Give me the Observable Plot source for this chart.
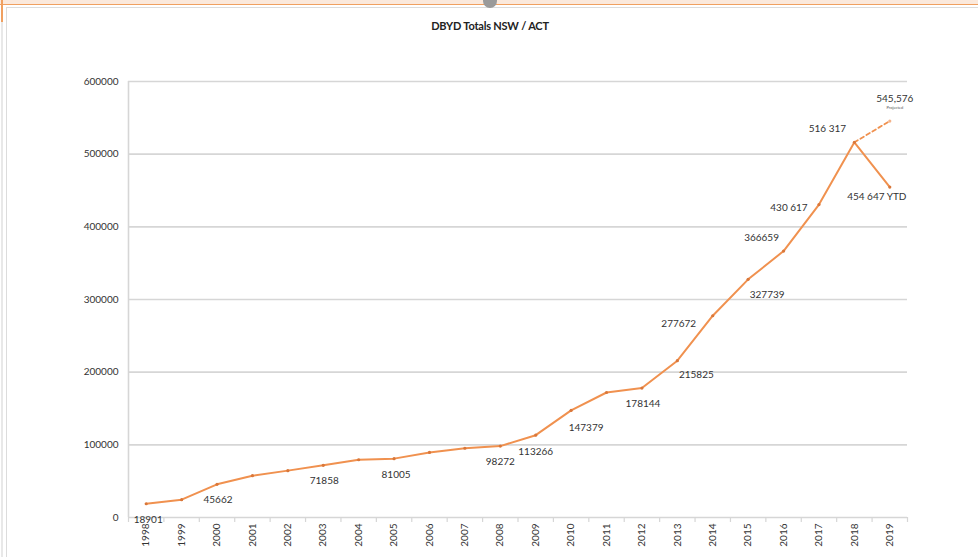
<!DOCTYPE html>
<html>
<head>
<meta charset="utf-8">
<script src="https://cdn.jsdelivr.net/npm/d3@7"></script>
<script src="https://cdn.jsdelivr.net/npm/@observablehq/plot@0.6"></script>
<style>
  html, body { margin: 0; padding: 0; background: #ffffff; }
  body { width: 978px; height: 557px; overflow: hidden; position: relative; font-family: Lato, "Open Sans", sans-serif; }
  #topbar { position: absolute; left: 0; top: 0; width: 978px; height: 4px; background: #fbe9dc; border-bottom: 1px solid #f0a060; }
  #leftbar { position: absolute; left: 1px; top: 0; width: 2px; height: 557px; background: linear-gradient(#f0a060 0, #f0a060 22px, #e8e8e8 22px); }
  #knob { position: absolute; left: 483px; top: -6px; width: 14px; height: 14px; border-radius: 7px; background: #9a9a9a; }
  #panel { position: absolute; left: 6px; top: 7px; width: 972px; height: 550px; border-top: 1px solid #dcdcdc; border-left: 1px solid #dcdcdc; }
  #title { height: 50px; width: 978px; box-sizing: border-box; padding-top: 19px; text-align: center; font-weight: bold; font-size: 11px; color: #222; position: relative; letter-spacing: -0.2px; text-indent: 2px; }
  #chart { position: relative; }
</style>
</head>
<body>
<div id="topbar"></div>
<div id="panel"></div>
<div id="leftbar"></div>
<div id="knob"></div>
<div id="title">DBYD Totals NSW / ACT</div>
<div id="chart"></div>
<script>
// ---- data ----
const years = [1998, 1999, 2000, 2001, 2002, 2003, 2004, 2005, 2006, 2007, 2008,
               2009, 2010, 2011, 2012, 2013, 2014, 2015, 2016, 2017, 2018, 2019];
const totals = [18901, 24500, 45662, 57500, 64500, 71858, 79500, 81005, 89500, 95300, 98272,
                113266, 147379, 172000, 178144, 215825, 277672, 327739, 366659, 430617, 516317, 454647];
const valueLabels = ["18901", "", "45662", "", "", "71858", "", "81005", "", "", "98272",
                     "113266", "147379", "", "178144", "215825", "277672", "327739", "366659", "430 617", "516 317", "454 647 YTD"];
const forecastYears = [2018, 2019];
const forecastValues = [516317, 545576];
const forecastLabel = "545,576";
const forecastNote = "Projected";
const yTicks = [0, 100000, 200000, 300000, 400000, 500000, 600000];

// ---- layout (label offsets in pixels, by year) ----
const labelOffset = {
  1998: [2, 16], 2000: [1, 15], 2003: [1, 16], 2005: [2, 16], 2008: [0, 16],
  2009: [0, 17], 2010: [15, 17], 2012: [1, 16], 2013: [19, 14], 2014: [-34, 8],
  2015: [19, 15], 2016: [-22, -13], 2017: [-30, 3], 2018: [-27, -14], 2019: [-13, 10]
};

const series = years.map((y, i) => ({year: y, total: totals[i], label: valueLabels[i]}));
const forecast = forecastYears.map((y, i) => ({year: y, total: forecastValues[i]}));
const boundaries = years.map(y => y - 0.5).concat([years[years.length - 1] + 0.5]);

const orange = "#F0914F";
const grid = "#d6d6d6";

const labelMarks = series.filter(d => d.label !== "").map(d =>
  Plot.text([d], {x: "year", y: "total", text: "label", dx: labelOffset[d.year][0], dy: labelOffset[d.year][1],
                  fontSize: 10, fill: "#333"})
);

const chart = Plot.plot({
  width: 978,
  height: 507,
  marginTop: 31,
  marginBottom: 40,
  marginLeft: 128,
  marginRight: 71,
  style: {fontFamily: "Lato, 'Open Sans', sans-serif", background: "transparent", overflow: "visible"},
  x: {type: "linear", domain: [years[0] - 0.5, years[years.length - 1] + 0.5], ticks: years,
      tickFormat: d => String(d), tickRotate: -90, tickSize: 0, tickPadding: 6, label: null},
  y: {domain: [yTicks[0], yTicks[yTicks.length - 1]], ticks: yTicks, tickFormat: d => String(d),
      tickSize: 0, tickPadding: 10, label: null},
  marks: [
    Plot.ruleY(yTicks, {stroke: grid, strokeWidth: 1.6}),
    Plot.ruleX([boundaries[0]], {stroke: grid, strokeWidth: 1.6}),
    Plot.ruleX(boundaries, {y1: 0, y2: 0, insetBottom: -5, stroke: grid, strokeWidth: 1.2}),
    Plot.line(forecast, {x: "year", y: "total", stroke: orange, strokeWidth: 1.8, strokeDasharray: "4,3"}),
    Plot.line(series, {x: "year", y: "total", stroke: orange, strokeWidth: 2}),
    Plot.dot(series, {x: "year", y: "total", r: 1.6, fill: "#d9773a"}),
    Plot.dot(forecast.slice(1), {x: "year", y: "total", r: 1.6, fill: "#f3b38a"}),
    ...labelMarks,
    Plot.text(forecast.slice(1), {x: "year", y: "total", text: () => forecastLabel, dy: -22, dx: 5, fontSize: 10, fill: "#333"}),
    Plot.text(forecast.slice(1), {x: "year", y: "total", text: () => forecastNote, dy: -13, dx: 5, fontSize: 4, fill: "#555"})
  ]
});
chart.style.color = "#333";
d3.select(chart).selectAll("g[aria-label='y-axis tick label'] text, g[aria-label='x-axis tick label'] text").attr("font-size", 10);
document.getElementById("chart").appendChild(chart);
</script>
</body>
</html>
